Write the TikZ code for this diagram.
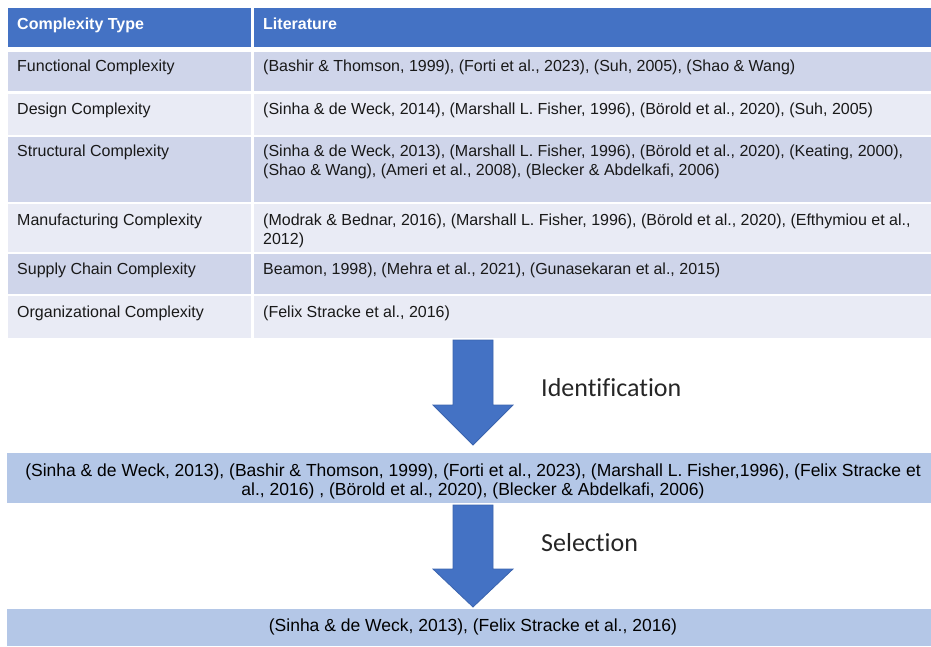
\documentclass[tikz,border=0pt]{standalone}
\usepackage{fontspec}
\setmainfont{Liberation Sans}
\newfontfamily\labelfont{Carlito}[Ligatures=NoCommon]

\definecolor{hdrblue}{HTML}{4472C4}
\definecolor{rowdark}{HTML}{CFD5EA}
\definecolor{rowlight}{HTML}{E9EBF5}
\definecolor{boxblue}{HTML}{B4C7E7}
\definecolor{arrowedge}{HTML}{3B64AE}

\tikzset{
  celltext/.style={font=\fontsize{16}{19}\selectfont, text=black!90, inner sep=0pt, anchor=base west},
  headtext/.style={celltext, font=\fontsize{16}{19}\selectfont\bfseries, text=white},
  boxtext/.style={font=\fontsize{17.5}{20}\selectfont, text=black, inner sep=0pt, anchor=base},
  steplabel/.style={font=\labelfont\fontsize{26}{30}\selectfont, text=black!85, inner sep=0pt, anchor=base west},
  resultbox/.style={fill=boxblue, draw=none, inner sep=0pt, minimum width=924pt},
  blockarrow/.style={fill=hdrblue, draw=arrowedge, line width=0.8pt, line join=miter},
}

\begin{document}
\begin{tikzpicture}[x=1pt,y=-1pt]
\useasboundingbox (0,0) rectangle (931,646);

% ---- table cells ----
\fill[hdrblue]  (7.5,7.5)   rectangle (251,47);
\fill[hdrblue]  (253.5,7.5) rectangle (931,47);
\fill[rowdark]  (7.5,51.5)  rectangle (251,91);
\fill[rowdark]  (253.5,51.5) rectangle (931,91);
\fill[rowlight] (7.5,93.5)  rectangle (251,135);
\fill[rowlight] (253.5,93.5) rectangle (931,135);
\fill[rowdark]  (7.5,136.8) rectangle (251,202);
\fill[rowdark]  (253.5,136.8) rectangle (931,202);
\fill[rowlight] (7.5,204)   rectangle (251,252);
\fill[rowlight] (253.5,204) rectangle (931,252);
\fill[rowdark]  (7.5,253.8) rectangle (251,294);
\fill[rowdark]  (253.5,253.8) rectangle (931,294);
\fill[rowlight] (7.5,296)   rectangle (251,337.5);
\fill[rowlight] (253.5,296) rectangle (931,337.5);

% ---- table header ----
\node[headtext] (h1) at (17,29)  {Complexity Type};
\node[headtext] (h2) at (263,29) {Literature};

% ---- table body ----
\node[celltext] (t1) at (17,71) {Functional Complexity};
\node[celltext] (l1) at (263,71) {(Bashir \& Thomson, 1999), (Forti et al., 2023), (Suh, 2005), (Shao \& Wang)};

\node[celltext] (t2) at (17,114) {Design Complexity};
\node[celltext] (l2) at (263,114) {(Sinha \& de Weck, 2014), (Marshall L. Fisher, 1996), (Börold et al., 2020), (Suh, 2005)};

\node[celltext] (t3) at (17,156.7) {Structural Complexity};
\node[celltext] (l3a) at (263,156.7) {(Sinha \& de Weck, 2013), (Marshall L. Fisher, 1996), (Börold et al., 2020), (Keating, 2000),};
\node[celltext] (l3b) at (263,175.7) {(Shao \& Wang), (Ameri et al., 2008), (Blecker \& Abdelkafi, 2006)};

\node[celltext] (t4) at (17,225.7) {Manufacturing Complexity};
\node[celltext] (l4a) at (263,225.7) {(Modrak \& Bednar, 2016), (Marshall L. Fisher, 1996), (Börold et al., 2020), (Efthymiou et al.,};
\node[celltext] (l4b) at (263,244.5) {2012)};

\node[celltext] (t5) at (17,274) {Supply Chain Complexity};
\node[celltext] (l5) at (263,274) {Beamon, 1998), (Mehra et al., 2021), (Gunasekaran et al., 2015)};

\node[celltext] (t6) at (17,317.7) {Organizational Complexity};
\node[celltext] (l6) at (263,317.7) {(Felix Stracke et al., 2016)};

% ---- identification step ----
\draw[blockarrow] (453,340) -- (493,340) -- (493,405) -- (513,405)
  -- (473,445) -- (433,405) -- (453,405) -- cycle;
\node[steplabel] (ident) at (541,396) {Identification};

\node[resultbox, minimum height=50pt] (box1) at (469,478.3) {};
\node[boxtext] (b1a) at (473,476.2) {(Sinha \& de Weck, 2013), (Bashir \& Thomson, 1999), (Forti et al., 2023), (Marshall L. Fisher,1996), (Felix Stracke et};
\node[boxtext] (b1b) at (473,495.5) {al., 2016) , (Börold et al., 2020), (Blecker \& Abdelkafi, 2006)};

% ---- selection step ----
\draw[blockarrow] (453,505) -- (493,505) -- (493,569) -- (513,569)
  -- (473,607) -- (433,569) -- (453,569) -- cycle;
\node[steplabel] (select) at (541,551.7) {Selection};

\node[resultbox, minimum height=37pt] (box2) at (469,627.5) {};
\node[boxtext] (b2) at (473,631.5) {(Sinha \& de Weck, 2013), (Felix Stracke et al., 2016)};

\end{tikzpicture}
\end{document}
